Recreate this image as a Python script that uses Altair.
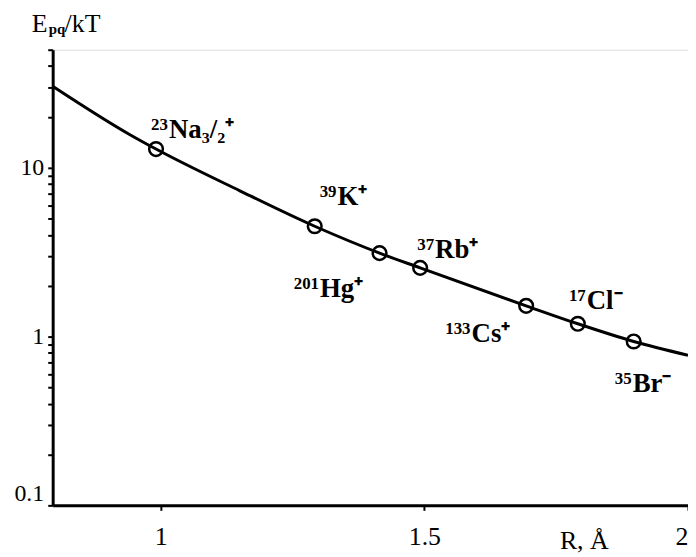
import altair as alt
import pandas as pd

# Curve (R in Angstrom, E_pq/kT)
curve_r = [0.795, 0.94, 0.991, 1.15, 1.292, 1.415, 1.492, 1.693, 1.791, 1.897, 2.0]
curve_e = [30.4, 15.8, 12.9, 7.3, 4.5, 3.12, 2.55, 1.52, 1.19, 0.935, 0.775]

# Ion points
ion_names = ["Na", "K", "Hg", "Rb", "Cs", "Cl", "Br"]
ion_r = [0.991, 1.292, 1.415, 1.492, 1.693, 1.791, 1.897]
ion_e = [12.9, 4.5, 3.12, 2.55, 1.52, 1.19, 0.935]
ion_mass = ["23", "39", "201", "37", "133", "17", "35"]
ion_main = ["Na₃/₂⁺", "K⁺", "Hg⁺", "Rb⁺", "Cs⁺", "Cl⁻", "Br⁻"]

y_ticks = [0.1, 0.2, 0.3, 0.4, 0.5, 0.6, 0.7, 0.8, 0.9,
           1, 2, 3, 4, 5, 6, 7, 8, 9, 10, 20, 30, 40, 50]
x_ticks = [1, 1.5, 2]

curve_df = pd.DataFrame({"r": curve_r, "e": curve_e})
ions_df = pd.DataFrame({"ion": ion_names, "r": ion_r, "e": ion_e,
                        "mass": ion_mass, "main": ion_main})

FONT = "Liberation Serif"

x_enc = alt.X("r:Q", scale=alt.Scale(domain=[0.795, 2.0], nice=False, zero=False),
              axis=alt.Axis(values=x_ticks, format="~g", title="R, Å",
                            titleX=535, titleY=43, titleAlign="center",
                            titleBaseline="alphabetic", titleFontSize=26,
                            titleFontWeight="normal", titleFont=FONT,
                            labelFontSize=26, labelFont=FONT, labelPadding=13,
                            labelFlush=True, grid=False, tickSize=5,
                            tickWidth=2, domainWidth=3, tickColor="black",
                            domainColor="black", labelColor="black",
                            titleColor="black"))
y_enc = alt.Y("e:Q", scale=alt.Scale(type="log", domain=[0.1, 50], nice=False),
              axis=alt.Axis(values=y_ticks, format="~g", title=None,
                            labelExpr="(datum.value == 0.1 || datum.value == 1 || datum.value == 10) ? datum.label : ''",
                            labelFontSize=24, labelFont=FONT, labelPadding=4,
                            labelFlush=True, grid=False, tickSize=5,
                            tickWidth=2, domainWidth=3, tickColor="black",
                            domainColor="black", labelColor="black"))

line = alt.Chart(curve_df).mark_line(color="black", strokeWidth=3,
                                     interpolate="monotone").encode(x=x_enc, y=y_enc)

points = alt.Chart(ions_df).mark_point(shape="circle", size=190, filled=False,
                                       color="black", strokeWidth=2.5,
                                       opacity=1).encode(x="r:Q", y="e:Q")

# label offsets (pixels) for main text start / baseline relative to point
offsets = {
    "Na": (13, -11), "K": (23, -21), "Hg": (-60, 44), "Rb": (15, -10),
    "Cs": (-55, 36), "Cl": (9, -15), "Br": (-1, 51),
}

layers = [line, points]
for name in ion_names:
    dx, dy = offsets[name]
    sub = alt.Chart(ions_df).transform_filter(alt.datum.ion == name)
    layers.append(sub.mark_text(align="left", baseline="alphabetic", dx=dx, dy=dy,
                                font=FONT, fontSize=27, fontWeight="bold",
                                color="black").encode(
        x="r:Q", y="e:Q", text="main:N"))
    layers.append(sub.mark_text(align="right", baseline="alphabetic", dx=dx - 1, dy=dy - 8,
                                font=FONT, fontSize=17, fontWeight="bold",
                                color="black").encode(
        x="r:Q", y="e:Q", text="mass:N"))

# y-axis title E_pq/kT
title_df = pd.DataFrame({"t": ["E", "pq", "/kT"]})
t1 = alt.Chart(title_df).transform_filter(alt.datum.t == "E").mark_text(
    align="left", baseline="alphabetic", font=FONT, fontSize=26, color="black"
).encode(x=alt.value(-21), y=alt.value(-18), text="t:N")
t2 = alt.Chart(title_df).transform_filter(alt.datum.t == "pq").mark_text(
    align="left", baseline="alphabetic", font=FONT, fontSize=15, color="black",
    fontWeight="bold"
).encode(x=alt.value(-4), y=alt.value(-16), text="t:N")
t3 = alt.Chart(title_df).transform_filter(alt.datum.t == "/kT").mark_text(
    align="left", baseline="alphabetic", font=FONT, fontSize=26, color="black"
).encode(x=alt.value(12), y=alt.value(-18), text="t:N")
layers += [t1, t2, t3]

chart = alt.layer(*layers).properties(
    width=640, height=459,
    autosize=alt.AutoSizeParams(type="none"),
    padding={"left": 45, "top": 40, "right": 0, "bottom": 50},
).configure_view(stroke=None).configure(background="white")

chart.save("out.html", embed_options={"renderer": "svg", "actions": False})
